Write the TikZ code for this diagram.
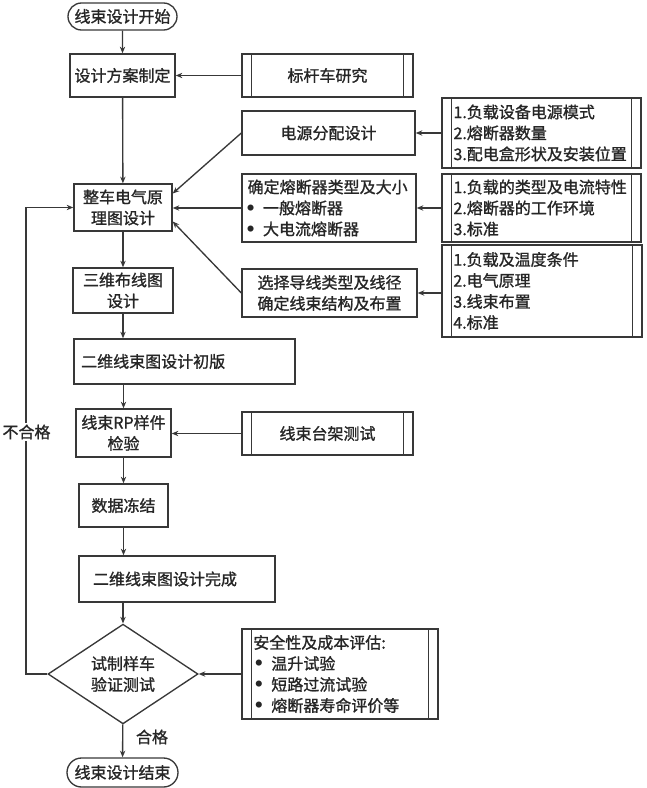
\documentclass[tikz,border=0pt]{standalone}
\usepackage{fontspec}
\setmainfont{Noto Sans CJK SC}[AutoFakeBold=1.2]
\newfontfamily\dv{DejaVu Sans}
\usetikzlibrary{shapes.geometric,shapes.misc,arrows.meta,calc}
\definecolor{lc}{HTML}{383838}
\newcommand{\fs}{\fontsize{12pt}{15.75pt}\selectfont\bfseries}
\newcommand{\bul}{\makebox[13.5pt][l]{{\dv\fontsize{13pt}{15pt}\selectfont •}}}
\tikzset{
  base/.style={draw=lc, line width=1pt, fill=white, inner sep=0pt, font=\fs, align=center, text=black!85},
  box/.style={base, rectangle},
  term/.style={base, rounded rectangle},
  dia/.style={base, diamond},
  pp/.style={base, path picture={
      \draw[lc, line width=1pt]
        ([xshift=7pt]path picture bounding box.north west) -- ([xshift=7pt]path picture bounding box.south west)
        ([xshift=-7pt]path picture bounding box.north east) -- ([xshift=-7pt]path picture bounding box.south east);}},
  arr/.style={draw=lc, line width=1pt, -{Stealth[length=5pt,width=4pt]}},
  lbl/.style={font=\fs, inner sep=1pt, text=black!85},
}
\begin{document}
\begin{tikzpicture}[x=0.75pt,y=-0.75pt]
\useasboundingbox[fill=white] (0,0) rectangle (646,788);

% main column
\node[term, minimum width=81.75pt, minimum height=20.25pt] (start) at (122.5,16.5) {线束设计开始};
\node[box, minimum width=78.75pt, minimum height=32.25pt] (fa) at (122.5,75.5) {设计方案制定};
\node[box, minimum width=73.5pt, minimum height=35.25pt] (zc) at (123,207.5) {整车电气原\\理图设计};
\node[box, minimum width=75pt, minimum height=33.75pt] (sw) at (123,290.5) {三维布线图\\设计};
\node[box, minimum width=165.75pt, minimum height=33.75pt, text width=155pt, align=left] (ew) at (184.5,361.5) {二维线束图设计初版};
\node[box, minimum width=71.25pt, minimum height=36pt] (rp) at (123.5,433) {线束RP样件\\检验};
\node[box, minimum width=66.75pt, minimum height=32.25pt] (sj) at (123.5,505.5) {数据冻结};
\node[box, minimum width=147pt, minimum height=34.5pt, text width=126pt, align=left] (wc) at (177,579) {二维线束图设计完成};
\node[dia, minimum width=112.5pt, minimum height=70.5pt] (dm) at (123,674) {试制样车\\验证测试};
\node[term, minimum width=83.25pt, minimum height=21.75pt] (end) at (122.5,772.5) {线束设计结束};

% middle column
\node[pp, minimum width=128.25pt, minimum height=32.25pt] (bg) at (327.5,75.5) {标杆车研究};
\node[box, minimum width=129.75pt, minimum height=33pt] (dy) at (328.5,133) {电源分配设计};
\node[box, minimum width=130.5pt, minimum height=51pt, text width=122pt, align=left] (rd) at (329,208) {确定熔断器类型及大小\\\hspace*{-2pt}\bul 一般熔断器\\\hspace*{-2pt}\bul 大电流熔断器};
\node[box, minimum width=131.25pt, minimum height=36pt] (xz) at (329.5,293) {选择导线类型及线径\\确定线束结构及布置};
\node[pp, minimum width=128.25pt, minimum height=32.25pt] (tj) at (327.5,433.5) {线束台架测试};
\node[pp, minimum width=147pt, minimum height=67.5pt, text width=130pt, align=left] (aq) at (340,674) {安全性及成本评估:\\\bul 温升试验\\\bul 短路过流试验\\\bul 熔断器寿命评价等};

% right column
\node[pp, minimum width=149.25pt, minimum height=52.5pt, text width=132pt, align=left] (r1) at (541.5,133) {1.负载设备电源模式\\2.熔断器数量\\3.配电盒形状及安装位置};
\node[pp, minimum width=149.25pt, minimum height=51pt, text width=132pt, align=left] (r2) at (541.5,208) {1.负载的类型及电流特性\\2.熔断器的工作环境\\3.标准};
\node[pp, minimum width=150pt, minimum height=69pt, text width=133pt, align=left] (r3) at (542,291) {1.负载及温度条件\\2.电气原理\\3.线束布置\\4.标准};

% main flow
\draw[arr] (start) -- (fa);
\draw[arr] (fa) -- (zc);
\draw[arr] (zc) -- (sw);
\draw[arr] (sw.south) -- (sw.south |- ew.north);
\draw[arr] (rp.north |- ew.south) -- (rp.north);
\draw[arr] (rp) -- (sj);
\draw[arr] (sj.south) -- (sj.south |- wc.north);
\draw[arr] (dm.north |- wc.south) -- (dm.north);
\draw[arr] (dm) -- (end);
\node[lbl] (ok) at (152,737) {合格};

% side inputs
\draw[arr] (bg.west) -- (fa.east);
\draw[arr] (dy.west) -- ([yshift=10.5pt]zc.east);
\draw[arr] (rd.west) -- (rd.west -| zc.east);
\draw[arr] (xz.west) -- ([yshift=-10.5pt]zc.east);
\draw[arr] (tj.west) -- (tj.west -| rp.east);
\draw[arr] (aq.west) -- (dm.east);
\draw[arr] (r1.west) -- (dy.east);
\draw[arr] (r2.west) -- (rd.east);
\draw[arr] (xz.east -| r3.west) -- (xz.east);

% feedback loop
\coordinate (lp) at (26,674);
\draw[arr] (dm.west) -- (lp) |- (zc.west);
\node[lbl, fill=white] (ng) at (26.5,432) {不合格};
\end{tikzpicture}
\end{document}
